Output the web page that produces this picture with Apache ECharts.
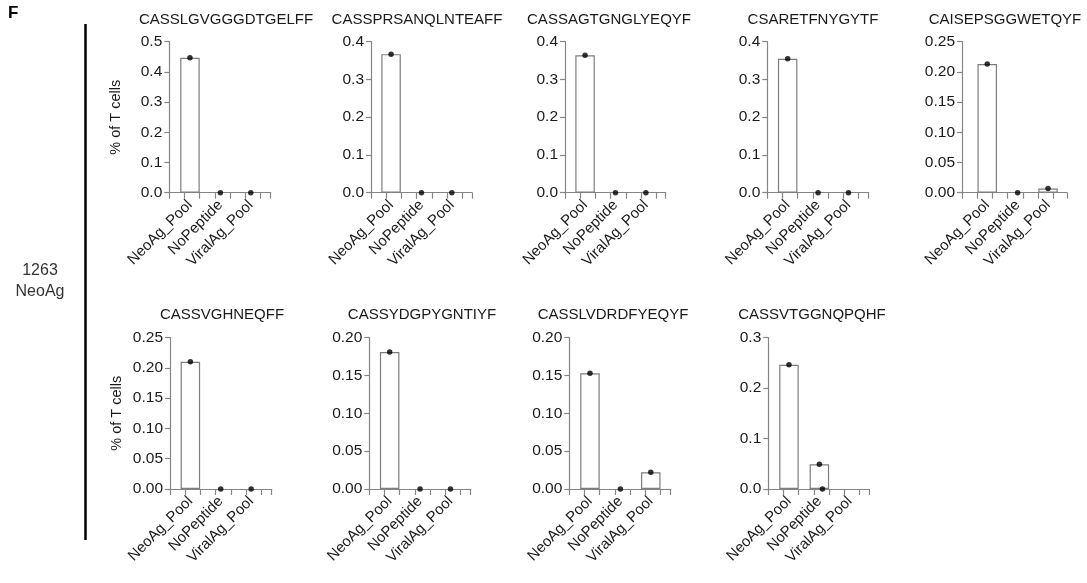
<!DOCTYPE html>
<html>
<head>
<meta charset="utf-8">
<script src="https://cdn.jsdelivr.net/npm/echarts@6/dist/echarts.min.js"></script>
<style>
html, body { margin: 0; padding: 0; background: #fff; }
#chart { width: 1087px; height: 583px; }
</style>
</head>
<body>
<div id="chart"></div>
<script>
// conditions on the x axis
var categories = ['NeoAg_Pool', 'NoPeptide', 'ViralAg_Pool'];

// TCR clonotypes (panel titles)
var clonotypes = [
    'CASSLGVGGGDTGELFF', 'CASSPRSANQLNTEAFF', 'CASSAGTGNGLYEQYF', 'CSARETFNYGYTF', 'CAISEPSGGWETQYF',
    'CASSVGHNEQFF', 'CASSYDGPYGNTIYF', 'CASSLVDRDFYEQYF', 'CASSVTGGNQPQHF'
];

// % of T cells per condition
var pct1 = [0.447, 0, 0];
var pct2 = [0.367, 0, 0];
var pct3 = [0.364, 0, 0];
var pct4 = [0.355, 0, 0];
var pct5 = [0.213, 0, 0.007];
var pct6 = [0.210, 0, 0];
var pct7 = [0.181, 0, 0];
var pct8 = [0.153, 0, 0.022];
var pct9 = [0.246, 0.049, null];
var values = [pct1, pct2, pct3, pct4, pct5, pct6, pct7, pct8, pct9];

// second NoPeptide replicate in the last panel (category offset, value)
var extraDots9 = [[1.1, 0]];

// y axis ranges
var yMax = [0.5, 0.4, 0.4, 0.4, 0.25, 0.25, 0.20, 0.20, 0.3];
var yStep = [0.1, 0.1, 0.1, 0.1, 0.05, 0.05, 0.05, 0.05, 0.1];

// layout
var gridLeft = [169.3, 371, 565, 767.3, 962, 170, 369.3, 569.3, 768.3];
var gridWidth = [101.4, 101, 100.7, 101.4, 105, 101.7, 101.4, 101.4, 101.2];
var gridTop = [41.7, 41.7, 41.7, 41.7, 41.7, 337.6, 337.6, 337.6, 337.6];
var gridHeight = [151, 151, 151, 151, 151, 151.4, 151.4, 151.4, 151.4];
var xPad = [0.68, 0.66, 0.66, 0.67, 0.83, 0.67, 0.67, 0.68, 0.68];
var titleX = [226, 417, 609, 813, 1005, 222, 422, 613, 812];
var titleTop = [12, 12, 12, 12, 12, 307, 307, 307, 307];
var pxPerCat = 30.4;

var FONT = '"Liberation Sans", Arial, sans-serif';
var AXIS = '#858585';
var TXT = '#1a1a1a';

var grids = [], xAxes = [], yAxes = [], series = [], titles = [];

values.forEach(function (vals, i) {
    grids.push({ left: gridLeft[i], top: gridTop[i], width: gridWidth[i], height: gridHeight[i] });

    var pad = xPad[i];
    var idx = [0, 1, 2];
    var labelPos = idx.map(function (k) { return pad + k; });
    xAxes.push({
        gridIndex: i,
        type: 'value',
        min: 0,
        max: gridWidth[i] / pxPerCat,
        splitLine: { show: false },
        axisLine: { show: true, lineStyle: { color: AXIS, width: 1.2 } },
        axisTick: { show: true, length: 6, lineStyle: { color: AXIS, width: 1.2 } },
        axisLabel: {
            customValues: labelPos,
            rotate: 45,
            margin: 10,
            fontSize: 15,
            fontFamily: FONT,
            color: TXT,
            formatter: function (v) { return categories[Math.round(v - pad)]; }
        }
    });

    var dec = yStep[i] < 0.1 ? 2 : 1;
    yAxes.push({
        gridIndex: i,
        type: 'value',
        min: 0,
        max: yMax[i],
        interval: yStep[i],
        name: (i === 0 || i === 5) ? '% of T cells' : '',
        nameLocation: 'middle',
        nameGap: 46,
        nameTextStyle: { fontSize: 14.5, fontFamily: FONT, color: TXT },
        splitLine: { show: false },
        axisLine: { show: true, lineStyle: { color: AXIS, width: 1.2 } },
        axisTick: { show: true, length: 5, lineStyle: { color: AXIS, width: 1.2 } },
        axisLabel: {
            margin: 7,
            fontSize: 15.5,
            fontFamily: FONT,
            color: TXT,
            showMinLabel: true,
            showMaxLabel: true,
            formatter: function (v) { return v.toFixed(dec); }
        }
    });

    var pts = [];
    idx.forEach(function (k) { if (vals[k] !== null) pts.push([pad + k, vals[k]]); });

    series.push({
        type: 'bar',
        xAxisIndex: i,
        yAxisIndex: i,
        barWidth: 19.5,
        itemStyle: { color: '#fff', borderColor: '#7d7d7d', borderWidth: 1.2 },
        data: pts.filter(function (p) { return p[1] > 0; }),
        silent: true
    });

    var dots = pts.slice();
    if (i === 8) {
        extraDots9.forEach(function (d) { dots.push([pad + d[0], d[1]]); });
    }
    series.push({
        type: 'scatter',
        xAxisIndex: i,
        yAxisIndex: i,
        symbolSize: 5.5,
        itemStyle: { color: '#000' },
        data: dots,
        z: 5,
        silent: true
    });

    titles.push({
        text: clonotypes[i],
        left: titleX[i],
        top: titleTop[i],
        textAlign: 'center',
        padding: 0,
        textStyle: { fontSize: 15, fontWeight: 'normal', fontFamily: FONT, color: TXT }
    });
});

var chart = echarts.init(document.getElementById('chart'));
chart.setOption({
    animation: false,
    title: titles,
    grid: grids,
    xAxis: xAxes,
    yAxis: yAxes,
    series: series,
    graphic: [
        { type: 'text', left: 8, top: 5, style: { text: 'F', font: 'bold 17px ' + FONT, fill: '#000' } },
        { type: 'line', shape: { x1: 85.5, y1: 24, x2: 85.5, y2: 540 }, style: { stroke: '#000', lineWidth: 2.5 } },
        { type: 'text', x: 40, y: 271, style: { text: '1263', font: '16px ' + FONT, fill: '#333', align: 'center', verticalAlign: 'middle' } },
        { type: 'text', x: 40, y: 292, style: { text: 'NeoAg', font: '16px ' + FONT, fill: '#333', align: 'center', verticalAlign: 'middle' } }
    ]
});
</script>
</body>
</html>
